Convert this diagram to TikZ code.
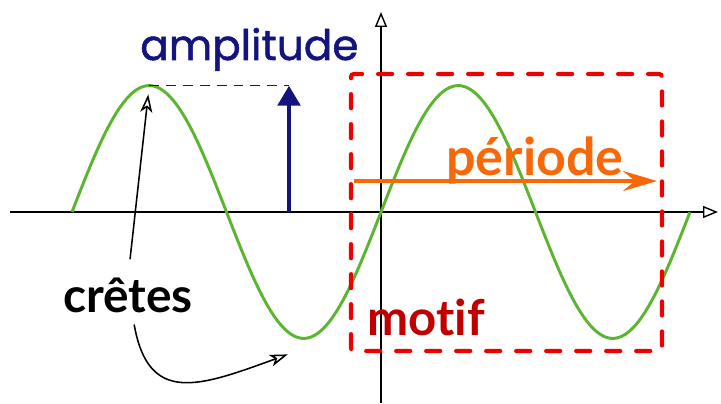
\documentclass[tikz,border=0pt]{standalone}
\usepackage{fontspec}
\usetikzlibrary{arrows.meta, calc}
\newfontfamily\titrefont{Poppins}[FakeBold=1.2]
\newfontfamily\etiqfont{Lato}[Ligatures=NoCommon]
\definecolor{ondevert}{HTML}{5CB531}
\definecolor{bleunuit}{HTML}{14147F}
\definecolor{orangevif}{HTML}{F76808}
\definecolor{rougevif}{HTML}{EE0000}
\definecolor{rougefonce}{HTML}{C00000}

\begin{document}
\begin{tikzpicture}
  \useasboundingbox (-9.525,-4.775) rectangle (8.5,5.3);

  % Axes
  \draw[line width=1pt, -{Triangle[open, length=0.375cm, width=0.3cm]}] (-9.275,0) -- (8.425,0);
  \draw[line width=1pt, -{Triangle[open, length=0.375cm, width=0.3cm]}] (0,-4.775) -- (0,5.0);

  % Sinusoide
  \draw[ondevert, line width=2.1pt] plot[domain=-7.725:7.725, samples=240] (\x, {3.16*sin(\x*360/7.725)});
  \coordinate (crete1) at (-5.79375,3.16);
  \coordinate (creux1) at (-1.93125,-3.16);

  % Motif (une periode)
  \draw[rougevif, line width=3pt, line cap=round, rounded corners=2pt, dash pattern=on 0.35cm off 0.4cm] (-0.75,-3.475) rectangle (7.025,3.45);
  \node[font=\etiqfont\bfseries\fontsize{35}{40}\selectfont, rougefonce, anchor=base west, inner sep=0pt] (motif) at (-0.35,-3.075) {motif};

  % Amplitude
  \coordinate (ampbas) at (-2.3,0);
  \coordinate (amphaut) at (-2.3,3.16);
  \draw[bleunuit, line width=1.1pt, dash pattern=on 7pt off 5pt] (crete1) -- (amphaut);
  \draw[bleunuit, line width=3.5pt, -{Triangle[length=0.5cm, width=0.55cm]}] (ampbas) -- (amphaut);
  \node[font=\titrefont\fontsize{30}{36}\selectfont, bleunuit, anchor=base west, inner sep=0pt] (amplitude) at (-6.025,3.8) {amplitude};

  % Periode
  \coordinate (perdebut) at (-0.675,0.775);
  \coordinate (perfin) at (6.9,0.775);
  \draw[orangevif, line width=2.8pt, -{Stealth[length=0.85cm, width=0.5cm, inset=0.3cm]}] (perdebut) -- (perfin);
  \node[font=\etiqfont\bfseries\fontsize{37}{42}\selectfont, orangevif, anchor=base west, inner sep=0pt] (periode) at (1.625,0.925) {période};

  % Cretes
  \node[font=\etiqfont\bfseries\fontsize{34}{40}\selectfont, black, anchor=base west, inner sep=0pt] (cretes) at (-7.95,-2.5) {crêtes};
  \draw[line width=1.1pt, -{Stealth[open, length=0.45cm, width=0.3cm, inset=0.12cm]}, shorten <=0.45cm, shorten >=0.22cm] (cretes.north) -- (crete1);
  \draw[line width=1.1pt, -{Stealth[open, length=0.45cm, width=0.3cm, inset=0.12cm]}, shorten <=0.3cm] ([xshift=0.1cm]cretes.south) to[out=-80, in=200, looseness=1.5] ($(creux1)+(-0.4,-0.4)$);
\end{tikzpicture}
\end{document}
